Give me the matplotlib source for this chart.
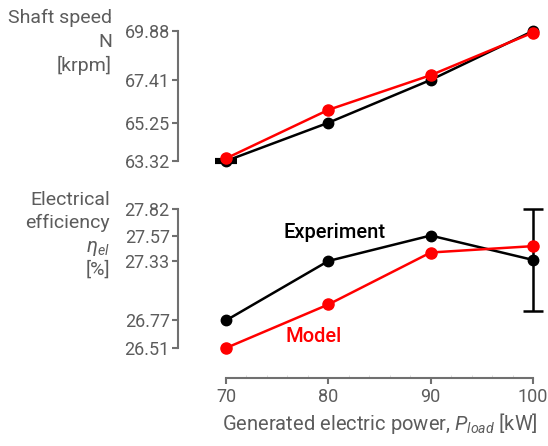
import numpy as np
import matplotlib.pyplot as plt

plt.rcParams['font.family'] = ['Roboto', 'DejaVu Sans']
plt.rcParams['mathtext.fontset'] = 'custom'
plt.rcParams['mathtext.it'] = 'Roboto:italic'
plt.rcParams['mathtext.rm'] = 'Roboto'

# data
power = [70, 80, 90, 100]
speed_exp = [63.32, 65.25, 67.41, 69.88]
speed_model = [63.45, 65.90, 67.65, 69.80]
speed_err = [0.04, 0, 0, 0]
eff_exp = [26.77, 27.33, 27.57, 27.34]
eff_model = [26.51, 26.92, 27.41, 27.47]
eff_err = [0, 0, 0, 0.48]

speed_ticks = [63.32, 65.25, 67.41, 69.88]
eff_ticks = [26.51, 26.77, 27.33, 27.57, 27.82]
power_ticks = [70, 80, 90, 100]

gray = '#5c5c5c'
spine_gray = '#707070'
W, H = 548, 446

fig = plt.figure(figsize=(W / 100, H / 100), dpi=100)
ax1 = fig.add_axes([226 / W, 1 - 161 / H, (533 - 226) / W, 130 / H])
ax2 = fig.add_axes([226 / W, 1 - 348 / H, (533 - 226) / W, 139 / H])


def style(ax):
    for s in ['top', 'right']:
        ax.spines[s].set_visible(False)
    ax.spines['left'].set_position(('outward', 34.5))
    ax.spines['left'].set_color(spine_gray)
    ax.spines['left'].set_linewidth(1.5)
    ax.tick_params(axis='y', direction='out', length=4, width=1.5, color=spine_gray,
                   labelcolor=gray, labelsize=13, pad=2)
    ax.set_xlim(70, 100)
    ax.patch.set_visible(False)


def draw(ax, y_exp, y_model, err, capsize):
    ax.plot(power, y_exp, color='black', lw=1.8, marker='o', ms=7.5, clip_on=False, zorder=2)
    idx = [i for i, e in enumerate(err) if e > 0]
    ax.errorbar([power[i] for i in idx], [y_exp[i] for i in idx], yerr=[err[i] for i in idx],
                fmt='none', ecolor='black', elinewidth=1.8, capsize=capsize,
                capthick=1.8 if capsize < 8 else 3, clip_on=False, zorder=2)
    ax.plot(power, y_model, color='red', lw=1.8, marker='o', ms=8, clip_on=False, zorder=3)


# shaft speed
style(ax1)
ax1.spines['bottom'].set_visible(False)
ax1.tick_params(axis='x', bottom=False, labelbottom=False)
ax1.set_ylim(63.32, 69.88)
ax1.set_yticks(speed_ticks)
ax1.set_yticklabels([f'{v:.2f}' for v in speed_ticks])
draw(ax1, speed_exp, speed_model, speed_err, 8)

# electrical efficiency
style(ax2)
ax2.spines['bottom'].set_position(('outward', 21.5))
ax2.spines['bottom'].set_color(spine_gray)
ax2.spines['bottom'].set_linewidth(1.5)
ax2.set_ylim(26.51, 27.82)
ax2.set_yticks(eff_ticks)
ax2.set_yticklabels([f'{v:.2f}' for v in eff_ticks])
ax2.set_xticks(power_ticks)
ax2.set_xticks(np.arange(70, 101, 2), minor=True)
ax2.tick_params(axis='x', direction='out', length=4, width=1.5, color=spine_gray,
                labelcolor=gray, labelsize=13, pad=3)
ax2.tick_params(axis='x', which='minor', direction='in', length=2, width=0.6, color='#d8d8d8')
draw(ax2, eff_exp, eff_model, eff_err, 7.5)
ax2.set_xlabel('Generated electric power, $P_{load}$ [kW]', color=gray, fontsize=14.5, labelpad=4)

ax2.text(75.6, 27.60, 'Experiment', color='black', fontsize=14.5, va='center', ha='left',
         fontweight='medium')
ax2.text(75.8, 26.62, 'Model', color='red', fontsize=14.5, va='center', ha='left',
         fontweight='medium')

fig.text(112 / W, 1 - 18 / H, 'Shaft speed', color=gray, fontsize=14, ha='right', va='center')
fig.text(112 / W, 1 - 42 / H, 'N', color=gray, fontsize=14, ha='right', va='center')
fig.text(112 / W, 1 - 65 / H, '[krpm]', color=gray, fontsize=14, ha='right', va='center')

fig.text(110 / W, 1 - 200 / H, 'Electrical', color=gray, fontsize=14, ha='right', va='center')
fig.text(110 / W, 1 - 223 / H, 'efficiency', color=gray, fontsize=14, ha='right', va='center')
fig.text(110 / W, 1 - 248 / H, r'$\eta_{el}$', color=gray, fontsize=14.5, ha='right', va='center')
fig.text(110 / W, 1 - 270 / H, '[%]', color=gray, fontsize=14, ha='right', va='center')

fig.savefig('out.png', dpi=100)
